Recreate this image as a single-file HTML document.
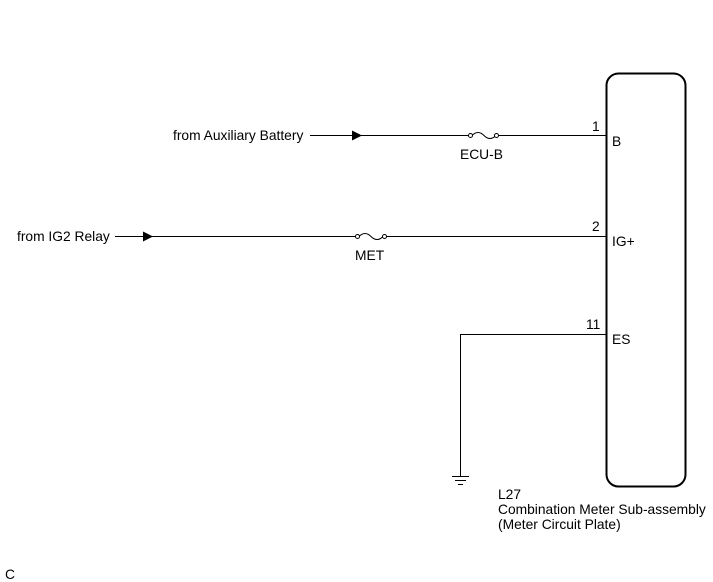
<!DOCTYPE html>
<html><head><style>
html,body{margin:0;padding:0;background:#fff;}
svg{display:block;}
text{font-family:"Liberation Sans",Arial,sans-serif;font-size:13.8px;fill:#000;}
</style></head><body>
<svg width="713" height="582" viewBox="0 0 713 582" xmlns="http://www.w3.org/2000/svg">
<rect x="606.5" y="73.5" width="79" height="413" rx="12" fill="none" stroke="#000" stroke-width="2"/>
<g stroke="#000" stroke-width="1" fill="none">
<line x1="310" y1="135.5" x2="469" y2="135.5"/>
<line x1="497" y1="135.5" x2="606" y2="135.5"/>
<path d="M472 135.5 q6 -6 12 0 q6 6 12 0"/>
<circle cx="470.5" cy="135.5" r="2" fill="#fff"/>
<circle cx="496.5" cy="135.5" r="2" fill="#fff"/>
<line x1="115" y1="236.5" x2="356" y2="236.5"/>
<line x1="386" y1="236.5" x2="606" y2="236.5"/>
<path d="M359 236.5 q6 -6 12 0 q6 6 12 0"/>
<circle cx="357.5" cy="236.5" r="2" fill="#fff"/>
<circle cx="384.5" cy="236.5" r="2" fill="#fff"/>
<polyline points="606,334.5 460.5,334.5 460.5,476"/>
<line x1="452" y1="476.5" x2="469" y2="476.5"/>
<line x1="455" y1="480.5" x2="466" y2="480.5"/>
<line x1="458" y1="484.5" x2="463" y2="484.5"/>
</g>
<polygon points="352,130.5 362,135.5 352,140.5" fill="#000"/>
<polygon points="143,231.5 153,236.5 143,241.5" fill="#000"/>
<text x="173" y="140">from Auxiliary Battery</text>
<text x="17" y="241">from IG2 Relay</text>
<text x="460" y="159">ECU-B</text>
<text x="355" y="260">MET</text>
<text x="592" y="131">1</text>
<text x="592" y="231">2</text>
<text x="586" y="329">11</text>
<text x="612" y="146">B</text>
<text x="612" y="246">IG+</text>
<text x="612" y="344">ES</text>
<text x="498" y="499">L27</text>
<text x="498" y="514">Combination Meter Sub-assembly</text>
<text x="498" y="529">(Meter Circuit Plate)</text>
<text x="5" y="579">C</text>
</svg>
</body></html>
